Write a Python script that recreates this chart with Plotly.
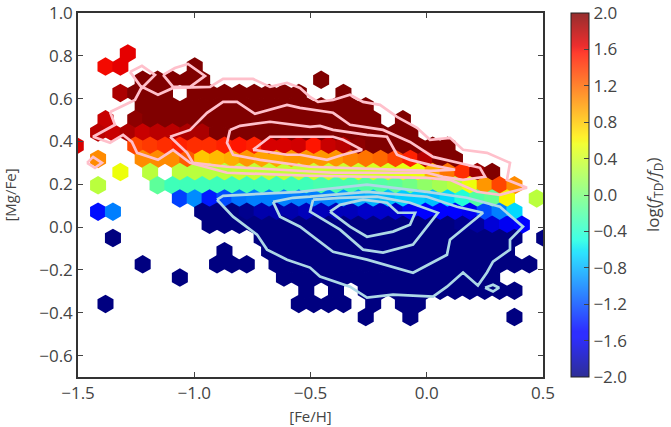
import numpy as np
import plotly.graph_objects as go

# Hexagonal bins: even rows start at x0_even, odd rows are shifted half a cell.
bin_dx = 0.06396
x0_even = -1.3817
row0_y = 0.7496
row_dy = 0.06157

# log(f_TD/f_D) per bin: row index -> (first column, values; None is an empty bin)
row_m1 = (2, [1.65])
row_00 = (0, [1.6, 1.65, None, None, None, None, 2.0])
row_01 = (3, [2.0, 2.0, 2.0, 2.0, 2.0, None, None, None, None, None, None, None, 2.0])
row_02 = (1, [1.85, 2.0, 2.0, 2.0, None, 2.0, 2.0, 2.0, 2.0, 2.0, 2.0, 2.0, 2.0, None, None, 2.0])
row_03 = (3, [2.0, 2.0, 2.0, 2.0, 2.0, 2.0, 2.0, 2.0, 2.0, 2.0, 2.0, 2.0, 2.0, 2.0, 2.0, 2.0])
row_04 = (0, [1.75, None, 1.95, 2.0, 2.0, 2.0, 2.0, 2.0, 2.0, 2.0, 2.0, 2.0, 2.0, 2.0, 2.0, 2.0, 2.0, 2.0, 2.0, None, 2.0])
row_05 = (0, [1.8, 1.75, 1.85, 1.75, 1.8, 1.8, 1.85, 1.85, 2.0, 2.0, 2.0, 2.0, 2.0, 2.0, 2.0, 2.0, 2.0, 2.0, 2.0, 2.0, 2.0, 2.0])
row_06 = (-2, [1.7, None, None, None, 1.35, 1.4, 1.45, 1.5, 1.45, 1.45, 1.5, 1.55, 1.5, 1.7, 1.7, 1.72, 1.55, 1.75, 1.8, 1.95, 2.0, 2.0, 2.0, 2.0, 2.0, 2.0])
row_07 = (0, [1.05, None, None, 1.05, 1.05, 1.05, 1.25, 0.8, 0.85, 0.9, 1.0, 0.95, 0.95, 1.0, 1.0, 1.0, 1.0, 1.1, 1.15, 1.2, 1.35, 1.5, 1.8, 2.0, 2.0])
row_08 = (1, [0.55, None, 0.3, None, 0.3, 0.3, 0.3, 0.3, 0.35, 0.35, 0.35, 0.35, 0.35, 0.4, 0.4, 0.4, 0.4, 0.45, 0.45, 0.5, 0.55, 0.9, 1.15, 1.45, 1.9, 2.0])
row_09 = (0, [0.3, None, None, None, -0.15, -0.3, -0.3, -0.3, -0.3, -0.3, -0.3, -0.3, -0.3, -0.3, -0.3, -0.25, -0.25, -0.25, -0.2, -0.2, -0.15, -0.05, 0.1, 0.2, 0.3, 0.55, 1.0, 1.35, 1.05])
row_10 = (5, [-1.25, -0.95, -1.4, -1.2, -1.05, -1.0, -1.0, -1.0, -1.0, -1.0, -1.0, -0.9, -0.85, -0.8, -0.75, -0.7, -0.7, -0.75, -0.65, -0.45, -0.2, -0.1, 0.6, None, 0.3])
row_11 = (0, [-1.45, -1.0, None, None, None, None, None, -2.0, -2.0, -2.0, -1.95, -1.85, -1.85, -1.85, -1.8, -1.8, -1.8, -1.8, -1.75, -1.75, -1.75, -1.6, -1.55, -1.5, -1.5, -1.6, -1.2, -1.0, -0.65])
row_12 = (7, [-2.0, -2.0, -2.0, -2.0, -2.0, -2.0, -2.0, -2.0, -2.0, -2.0, -2.0, -2.0, -2.0, -2.0, -2.0, -2.0, -2.0, -1.95, -1.9, -1.7, -1.6, -1.5])
row_13 = (1, [-2.0, None, None, None, None, None, None, None, None, None, -2.0, -2.0, -2.0, -2.0, -2.0, -2.0, -2.0, -2.0, -2.0, -2.0, -2.0, -2.0, -2.0, -2.0, -2.0, -2.0, -2.0, -2.0, None, -2.0])
row_14 = (8, [-2.0, None, None, -2.0, -2.0, -2.0, -2.0, -2.0, -2.0, -2.0, -2.0, -2.0, -2.0, -2.0, -2.0, -2.0, -2.0, -2.0, -2.0, -2.0])
row_15 = (3, [-2.0, None, None, None, None, -2.0, -2.0, -2.0, None, -2.0, -2.0, -2.0, -2.0, -2.0, -2.0, -2.0, -2.0, -2.0, -2.0, -2.0, -2.0, -2.0, -2.0, -2.0, -2.0, -2.0, -2.0])
row_16 = (5, [-2.0, None, None, None, None, None, None, -2.0, -2.0, -2.0, -2.0, -2.0, -2.0, -2.0, -2.0, -2.0, -2.0, -2.0, -2.0, -2.0, -2.0, -2.0])
row_17 = (14, [-2.0, None, -2.0, None, -2.0, -2.0, -2.0, -2.0, -2.0, -2.0, -2.0, -2.0, -2.0, -2.0, -2.0])
row_18 = (0, [-2.0, None, None, None, None, None, None, None, None, None, None, None, None, -2.0, -2.0, -2.0, -2.0, None, -2.0, None, -2.0, -2.0])
row_19 = (18, [-2.0, None, None, -2.0, None, None, None, None, None, None, -2.0])

hex_rows = {-1: row_m1, 0: row_00, 1: row_01, 2: row_02, 3: row_03, 4: row_04, 5: row_05,
            6: row_06, 7: row_07, 8: row_08, 9: row_09, 10: row_10, 11: row_11, 12: row_12,
            13: row_13, 14: row_14, 15: row_15, 16: row_16, 17: row_17, 18: row_18, 19: row_19}

# Density contours of the thick-disc population
pink_outer_x = [-1.362, -1.341, -1.435, -1.362, -1.306, -1.268, -1.246, -1.156, -1.091, -1.018, -0.859, -0.502, 0.001, 0.100, 0.216, 0.315, 0.431, 0.345, 0.358, 0.259, 0.156, 0.100, 0.014, -0.042, -0.128, -0.201, -0.274, -0.330, -0.403, -0.468, -0.502, -0.545, -0.601, -0.674, -0.747, -0.876, -0.932, -1.091, -1.156, -1.225, -1.255, -1.362]
pink_outer_y = [0.538, 0.478, 0.422, 0.394, 0.431, 0.398, 0.347, 0.314, 0.361, 0.300, 0.254, 0.240, 0.230, 0.221, 0.165, 0.151, 0.184, 0.221, 0.300, 0.347, 0.361, 0.417, 0.408, 0.464, 0.515, 0.571, 0.585, 0.618, 0.594, 0.585, 0.608, 0.650, 0.674, 0.655, 0.692, 0.692, 0.655, 0.650, 0.618, 0.655, 0.594, 0.538]
pink_lobe1_x = [-1.276, -1.225, -1.169, -1.225, -1.276]
pink_lobe1_y = [0.725, 0.753, 0.711, 0.650, 0.725]
pink_lobe2_x = [-1.134, -1.083, -1.027, -0.954, -1.018, -1.091, -1.134]
pink_lobe2_y = [0.711, 0.743, 0.762, 0.706, 0.655, 0.655, 0.711]
pink_spot_x = [-1.461, -1.435, -1.397, -1.427, -1.461]
pink_spot_y = [0.300, 0.328, 0.300, 0.277, 0.300]
pink_mid_x = [-1.104, -1.018, -0.945, -0.876, -0.816, -0.739, -0.601, -0.545, -0.403, -0.330, -0.188, -0.072, 0.027, 0.229, 0.251, 0.156, 0.070, 0.001, -0.403, -0.859, -1.005, -1.031, -1.104]
pink_mid_y = [0.422, 0.454, 0.534, 0.585, 0.585, 0.529, 0.571, 0.557, 0.534, 0.478, 0.454, 0.398, 0.328, 0.277, 0.235, 0.221, 0.235, 0.254, 0.254, 0.282, 0.300, 0.347, 0.422]
pink_inner_x = [-0.846, -0.803, -0.674, -0.502, -0.459, -0.403, -0.257, -0.171, -0.128, -0.072, 0.014, 0.122, 0.014, -0.502, -0.717, -0.833, -0.859, -0.846]
pink_inner_y = [0.454, 0.473, 0.492, 0.468, 0.473, 0.454, 0.431, 0.422, 0.338, 0.314, 0.291, 0.268, 0.263, 0.282, 0.314, 0.338, 0.394, 0.454]
pink_core_x = [-0.747, -0.674, -0.502, -0.403, -0.360, -0.278, -0.360, -0.429, -0.545, -0.601, -0.747]
pink_core_y = [0.361, 0.422, 0.422, 0.422, 0.408, 0.361, 0.338, 0.314, 0.338, 0.338, 0.361]

# Density contours of the thin-disc population
blue_outer_x = [-0.902, -0.876, -0.545, -0.257, 0.001, 0.173, 0.315, 0.414, 0.358, 0.358, 0.285, 0.259, 0.220, 0.156, 0.087, 0.027, -0.145, -0.257, -0.330, -0.459, -0.502, -0.601, -0.687, -0.730, -0.833, -0.902]
blue_outer_y = [0.128, 0.146, 0.165, 0.198, 0.165, 0.137, 0.095, 0.002, -0.059, -0.105, -0.161, -0.212, -0.273, -0.212, -0.278, -0.325, -0.315, -0.329, -0.278, -0.231, -0.189, -0.152, -0.105, -0.035, 0.049, 0.128]
blue_mid_x = [-0.661, -0.575, -0.502, -0.257, 0.001, 0.130, 0.242, 0.100, 0.087, -0.059, -0.257, -0.403, -0.545, -0.631, -0.661]
blue_mid_y = [0.118, 0.137, 0.142, 0.165, 0.142, 0.095, 0.067, -0.059, -0.129, -0.213, -0.152, -0.115, 0.002, 0.049, 0.118]
blue_inner_x = [-0.489, -0.502, -0.373, -0.274, -0.188, -0.059, 0.048, -0.072, -0.214, -0.373, -0.489]
blue_inner_y = [0.128, 0.072, -0.012, -0.105, -0.119, -0.082, 0.067, 0.114, 0.142, 0.137, 0.128]
blue_core_x = [-0.416, -0.373, -0.274, -0.171, -0.124, -0.050, -0.072, -0.145, -0.257, -0.330, -0.416]
blue_core_y = [0.072, 0.104, 0.128, 0.114, 0.067, 0.067, 0.011, -0.021, -0.045, 0.002, 0.072]
blue_spot_x = [0.251, 0.285, 0.311, 0.285, 0.251]
blue_spot_y = [-0.283, -0.269, -0.283, -0.301, -0.283]

pink_lines = [(pink_outer_x, pink_outer_y), (pink_lobe1_x, pink_lobe1_y), (pink_lobe2_x, pink_lobe2_y),
              (pink_spot_x, pink_spot_y), (pink_mid_x, pink_mid_y), (pink_inner_x, pink_inner_y),
              (pink_core_x, pink_core_y)]
blue_lines = [(blue_outer_x, blue_outer_y), (blue_mid_x, blue_mid_y), (blue_inner_x, blue_inner_y),
              (blue_core_x, blue_core_y), (blue_spot_x, blue_spot_y)]

x_ticks = [-1.5, -1.0, -0.5, 0.0, 0.5]
y_ticks = [-0.6, -0.4, -0.2, 0.0, 0.2, 0.4, 0.6, 0.8, 1.0]
bar_ticks = [-2.0, -1.6, -1.2, -0.8, -0.4, 0.0, 0.4, 0.8, 1.2, 1.6, 2.0]

INK = "#444444"
FONT = "Open Sans"

# The classic jet map: piecewise-linear channels
jet_pos = [0, 0.11, 0.125, 0.34, 0.35, 0.375, 0.64, 0.65, 0.66, 0.89, 0.91, 1]
jet_r = np.interp(jet_pos, [0, 0.35, 0.66, 0.89, 1], [0, 0, 1, 1, 0.5])
jet_g = np.interp(jet_pos, [0, 0.125, 0.375, 0.64, 0.91, 1], [0, 0, 1, 1, 0, 0])
jet_b = np.interp(jet_pos, [0, 0.11, 0.34, 0.65, 1], [0.5, 1, 1, 0, 0])


def jet_scale(fade=0.0):
    out = []
    for p, r, g, b in zip(jet_pos, jet_r, jet_g, jet_b):
        c = [int(round(255 * (v * (1 - fade) + fade))) for v in (r, g, b)]
        out.append([p, f"rgb({c[0]},{c[1]},{c[2]})"])
    return out


def minus_text(ticks):
    return [f"{t:.1f}".replace("-", "\u2212") for t in ticks]


hx, hy, hv = [], [], []
for k, (first, values) in hex_rows.items():
    for i, v in enumerate(values):
        if v is None:
            continue
        c = first + i
        shift = -bin_dx / 2 if k % 2 else 0.0
        hx.append(x0_even + shift + bin_dx * c)
        hy.append(row0_y - row_dy * k)
        hv.append(v)

fig = go.Figure()
fig.add_trace(go.Scatter(
    x=hx, y=hy, mode="markers", showlegend=False, hoverinfo="skip",
    marker=dict(symbol="hexagon", size=18.5, opacity=1, color=hv, cmin=-2, cmax=2,
                colorscale=jet_scale(), showscale=False, line=dict(width=0)),
))
for lx, ly in pink_lines:
    fig.add_trace(go.Scatter(x=lx, y=ly, mode="lines", showlegend=False, hoverinfo="skip",
                             line=dict(color="#ffc0cb", width=2.7)))
for lx, ly in blue_lines:
    fig.add_trace(go.Scatter(x=lx, y=ly, mode="lines", showlegend=False, hoverinfo="skip",
                             line=dict(color="#add8e6", width=2.7)))

# Colour key: slightly washed jet, kept on its own empty trace
fig.add_trace(go.Scatter(
    x=[None], y=[None], mode="markers", showlegend=False, hoverinfo="skip",
    marker=dict(color=[0], cmin=-2, cmax=2, colorscale=jet_scale(0.18), showscale=True,
                colorbar=dict(
                    x=1.0596, xanchor="left", y=0, yanchor="bottom", len=1, lenmode="fraction",
                    thickness=18, thicknessmode="pixels", xpad=0, ypad=0,
                    tickmode="array", tickvals=bar_ticks, ticktext=minus_text(bar_ticks),
                    ticks="inside", ticklen=5, tickcolor=INK, tickwidth=1,
                    outlinecolor="#222222", outlinewidth=1,
                    tickfont=dict(family=FONT, size=17, color=INK),
                )),
))

axis_common = dict(showgrid=False, zeroline=False, showline=True, linecolor="#333333", linewidth=1.5,
                   mirror="allticks", ticks="inside", ticklen=5, tickcolor=INK, tickwidth=1,
                   automargin=False, tickfont=dict(family=FONT, size=17, color=INK))
fig.update_xaxes(range=[-1.5, 0.5], tickmode="array", tickvals=x_ticks, ticktext=minus_text(x_ticks),
                 title=dict(text="[Fe/H]", font=dict(family=FONT, size=15, color=INK), standoff=8),
                 **axis_common)
fig.update_yaxes(range=[-0.7, 1.0], tickmode="array", tickvals=y_ticks, ticktext=minus_text(y_ticks),
                 title=dict(text="[Mg/Fe]", font=dict(family=FONT, size=15, color=INK), standoff=20),
                 **axis_common)
fig.update_layout(width=671, height=427, autosize=False, paper_bgcolor="white", plot_bgcolor="white",
                  margin=dict(l=78, r=128, t=13, b=50),
                  annotations=[dict(text="log(<i>f</i><sub>TD</sub>/<i>f</i><sub>D</sub>)",
                                    xref="paper", yref="paper", x=(653 - 78) / 465, y=0.5,
                                    xanchor="center", yanchor="middle", textangle=-90, showarrow=False,
                                    font=dict(family=FONT, size=17, color=INK))])

fig.write_html("out.html")
